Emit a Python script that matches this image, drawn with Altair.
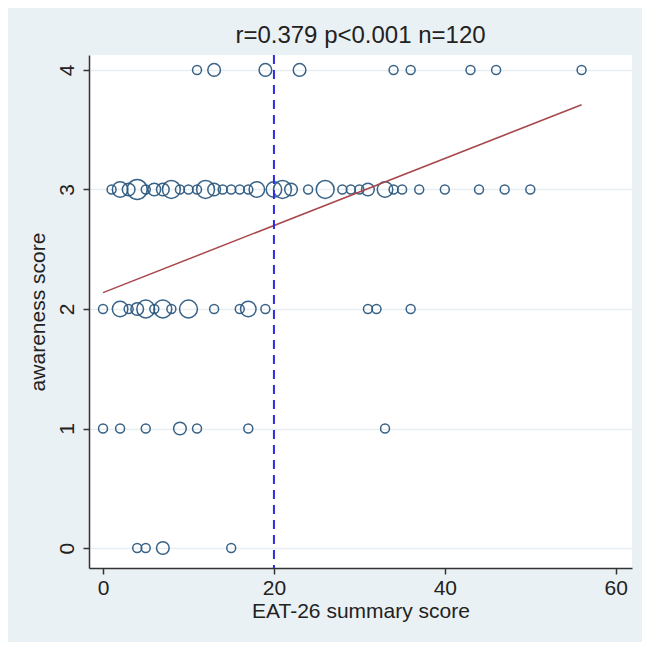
import altair as alt
import pandas as pd

# EAT-26 scores (x) and number of respondents (n) at each awareness level
aware0_x = [4, 5, 7, 15]
aware0_n = [1, 1, 2, 1]
aware1_x = [0, 2, 5, 9, 11, 17, 33]
aware1_n = [1, 1, 1, 2, 1, 1, 1]
aware2_x = [0, 2, 3, 4, 5, 6, 7, 8, 10, 13, 16, 17, 19, 31, 32, 36]
aware2_n = [1, 3, 1, 2, 4, 1, 4, 1, 4, 1, 1, 3, 1, 1, 1, 1]
aware3_x = [1, 2, 3, 4, 5, 6, 7, 8, 9, 10, 11, 12, 13, 14, 15, 16, 17, 18, 20,
            21, 22, 24, 26, 28, 29, 30, 31, 33, 34, 35, 37, 40, 44, 47, 50]
aware3_n = [1, 3, 2, 5, 1, 2, 2, 4, 1, 1, 1, 4, 2, 1, 1, 1, 1, 3, 3,
            4, 2, 1, 4, 1, 1, 1, 2, 3, 1, 1, 1, 1, 1, 1, 1]
aware4_x = [11, 13, 19, 23, 34, 36, 43, 46, 56]
aware4_n = [1, 2, 2, 2, 1, 1, 1, 1, 1]

CUTOFF = 20
x_ticks = [0, 20, 40, 60]
y_ticks = [0, 1, 2, 3, 4]
title_text = "r=0.379 p<0.001 n=120"

rows = []
for lvl, xs, ns in [(0, aware0_x, aware0_n), (1, aware1_x, aware1_n),
                    (2, aware2_x, aware2_n), (3, aware3_x, aware3_n),
                    (4, aware4_x, aware4_n)]:
    for x, n in zip(xs, ns):
        rows += [(x, lvl)] * n
df = pd.DataFrame(rows, columns=["eat", "aware"])

FONT = "Liberation Sans"
TXT = "#222222"

xscale = alt.Scale(domain=[-1.64, 61.9], nice=False, zero=False)
yscale = alt.Scale(domain=[-0.167, 4.125], nice=False, zero=False)

xaxis = alt.Axis(values=x_ticks, title="EAT-26 summary score", grid=False,
                 domainColor="#333333", domainWidth=1.5, tickColor="#333333",
                 tickSize=6, tickWidth=1.5, labelFontSize=21, titleFontSize=21,
                 labelFont=FONT, titleFont=FONT, labelColor=TXT, titleColor=TXT,
                 titleFontWeight="normal", labelPadding=3, titleY=43,
                 titleBaseline="middle", labelFlush=False)
yaxis = alt.Axis(values=y_ticks, title="awareness score", grid=True,
                 gridColor="#E6EEF2", gridWidth=1.5,
                 domainColor="#333333", domainWidth=1.5, tickColor="#333333",
                 tickSize=6, tickWidth=1.5, labelFontSize=21, titleFontSize=21,
                 labelFont=FONT, titleFont=FONT, labelColor=TXT, titleColor=TXT,
                 titleFontWeight="normal", labelAngle=270, labelAlign="center",
                 labelBaseline="bottom", labelPadding=6, titleX=-51,
                 titleBaseline="middle", labelFlush=False)

base = alt.Chart(df)

points = base.mark_point(shape="circle", filled=False, color="#2E5A80",
                         strokeWidth=1.5, opacity=0.95).encode(
    x=alt.X("eat:Q", scale=xscale, axis=xaxis),
    y=alt.Y("aware:Q", scale=yscale, axis=yaxis),
    size=alt.Size("count():Q", scale=alt.Scale(domain=[0, 5], range=[0, 400]),
                  legend=None),
)

fit = base.transform_regression("eat", "aware").mark_line(
    color="#A8474C", strokeWidth=1.5).encode(
    x=alt.X("eat:Q", scale=xscale, axis=xaxis),
    y=alt.Y("aware:Q", scale=yscale, axis=yaxis),
)

rule = alt.Chart(pd.DataFrame({"cut": [CUTOFF]})).mark_rule(
    color="#2B2BE6", strokeDash=[9, 6], strokeWidth=2).encode(
    x=alt.X("cut:Q", scale=xscale, axis=xaxis, title="EAT-26 summary score"),
)

chart = alt.layer(points, fit, rule).properties(
    width=543, height=513,
    autosize=alt.AutoSizeParams(type="none"),
    padding={"left": 81, "top": 47, "right": 10, "bottom": 74},
    background="#EAF1F4",
    title=alt.TitleParams(title_text, fontSize=24, font=FONT, color=TXT,
                          fontWeight="normal", offset=6, anchor="middle"),
).configure_view(fill="white", stroke=None)

chart.save("out.html", embed_options={"renderer": "svg", "actions": False})
